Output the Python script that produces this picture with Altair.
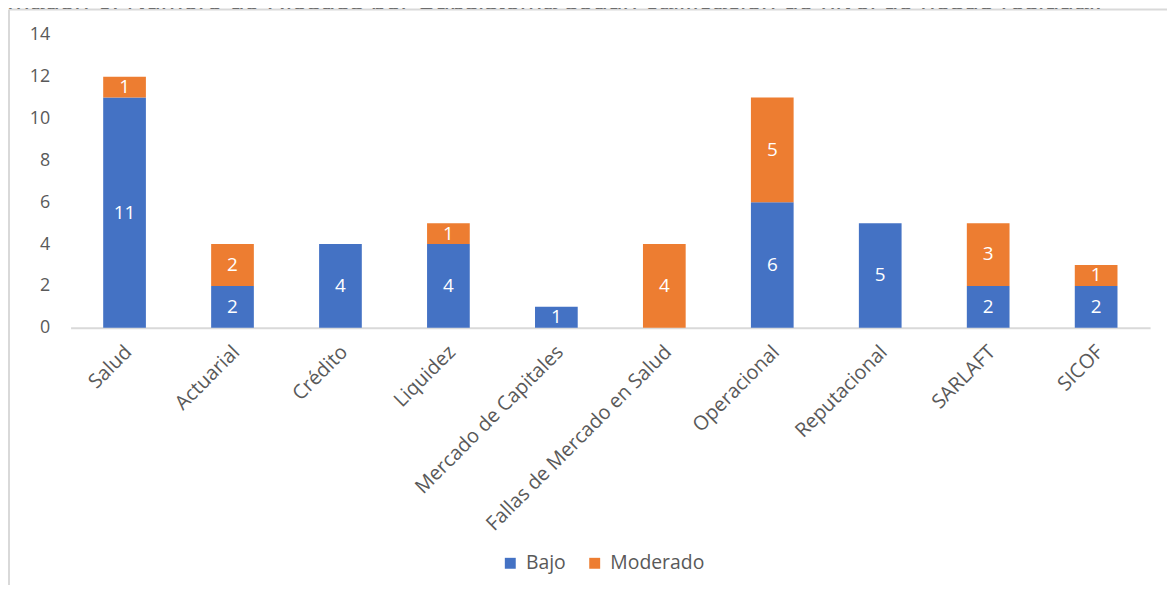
import altair as alt
import pandas as pd

# ---- data ----
subsistemas = ["Salud", "Actuarial", "Crédito", "Liquidez", "Mercado de Capitales",
               "Fallas de Mercado en Salud", "Operacional", "Reputacional", "SARLAFT", "SICOF"]
bajo = [11, 2, 4, 4, 1, 0, 6, 5, 2, 2]
moderado = [1, 2, 0, 1, 0, 4, 5, 0, 3, 1]
niveles = ["Bajo", "Moderado"]
colores = ["#4472C4", "#ED7D31"]
y_ticks = [0, 2, 4, 6, 8, 10, 12, 14]
titulo = "Imagen 6. Número de Riesgos por Subsistema según calificación de nivel de riesgo residual."

rows = []
for s, b, m in zip(subsistemas, bajo, moderado):
    rows.append({"Subsistema": s, "Nivel": niveles[0], "Riesgos": b, "orden": 0})
    rows.append({"Subsistema": s, "Nivel": niveles[1], "Riesgos": m, "orden": 1})
df = pd.DataFrame(rows)

W, H = 1087, 295
PAD_L, PAD_T, PAD_R, PAD_B = 63, 25, 17, 257
FONT = "Open Sans"
GRAY = "#595959"

x_enc = alt.X(
    "Subsistema:N", sort=subsistemas,
    scale=alt.Scale(paddingInner=0.6, paddingOuter=0.3),
    axis=alt.Axis(title=None, labelAngle=-45, labelAlign="right", labelBaseline="middle",
                  labelFontSize=20, labelColor=GRAY, labelFont=FONT, labelLimit=0,
                  ticks=False, tickSize=0, domainColor="#D9D9D9", domainWidth=2,
                  labelPadding=21, labelOffset=4),
)
y_scale = alt.Scale(domain=[0, 14], nice=False)

base = alt.Chart(df)

bars = base.mark_bar(size=43).encode(
    x=x_enc,
    y=alt.Y("Riesgos:Q", stack="zero", scale=y_scale,
            axis=alt.Axis(title=None, values=y_ticks, grid=False, domain=False, ticks=False,
                          tickSize=0, labelPadding=21, labelFontSize=18, labelColor=GRAY,
                          labelFont=FONT)),
    color=alt.Color("Nivel:N", scale=alt.Scale(domain=niveles, range=colores),
                    legend=alt.Legend(title=None, orient="none", legendX=433, legendY=522,
                                      direction="horizontal", symbolType="square",
                                      symbolSize=121, symbolStrokeWidth=0,
                                      labelFontSize=19.5, labelColor=GRAY, labelFont=FONT,
                                      columnPadding=19, labelOffset=6, padding=0)),
    order=alt.Order("orden:Q"),
)

labels = base.transform_stack(
    stack="Riesgos", groupby=["Subsistema"], sort=[alt.SortField("orden")], as_=["y0", "y1"]
).transform_calculate(
    mid="(datum.y0 + datum.y1) / 2"
).transform_filter(
    "datum.Riesgos > 0"
).mark_text(color="white", fontSize=19, font=FONT, baseline="middle").encode(
    x=alt.X("Subsistema:N", sort=subsistemas),
    y=alt.Y("mid:Q", scale=y_scale),
    text=alt.Text("Riesgos:Q"),
)

one = alt.Data(values=[{"k": 1}])
# document title above the chart box (the box overlaps its lower part, as in the source)
title_text = alt.Chart(one).mark_text(
    align="left", baseline="alphabetic", font="Liberation Sans", fontStyle="italic",
    fontSize=27, color="black").encode(
    x=alt.value(-70), y=alt.value(-24.5), text=alt.value(titulo))
box_cover = alt.Chart(one).mark_rect(color="white").encode(
    x=alt.value(-63), x2=alt.value(W + PAD_R + 10), y=alt.value(-26), y2=alt.value(-12))
frame_top = alt.Chart(one).mark_rule(color="#D9D9D9", strokeWidth=2).encode(
    x=alt.value(-62), x2=alt.value(W + PAD_R + 10), y=alt.value(-25.5))
frame_left = alt.Chart(one).mark_rule(color="#D9D9D9", strokeWidth=2).encode(
    x=alt.value(-62), y=alt.value(-25.5), y2=alt.value(H + PAD_B + 10))

chart = alt.layer(title_text, box_cover, frame_top, frame_left, bars, labels).properties(
    width=W, height=H,
    padding={"left": PAD_L, "top": PAD_T, "right": PAD_R, "bottom": PAD_B},
    autosize=alt.AutoSizeParams(type="none"),
).configure_view(stroke=None)

chart.save("out.html", embed_options={"renderer": "svg", "actions": False})
